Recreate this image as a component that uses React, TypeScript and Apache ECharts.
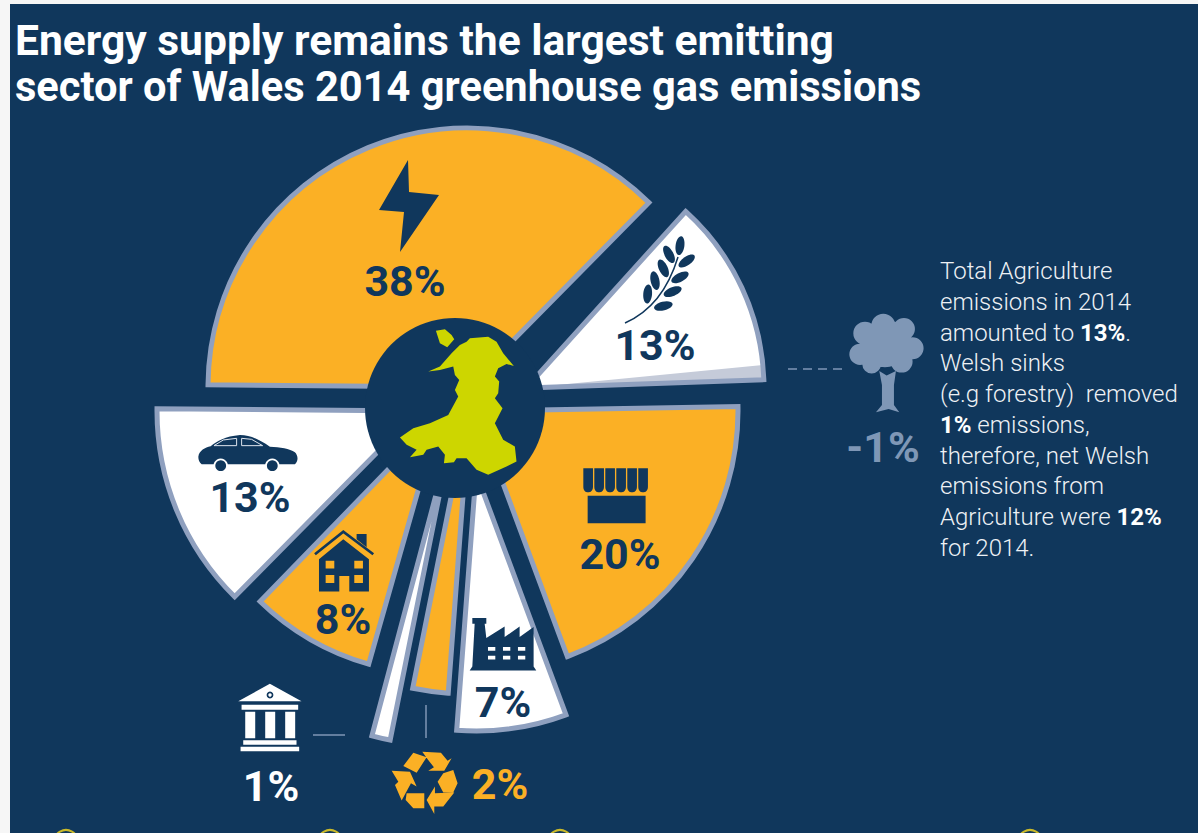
import React, { useEffect, useRef } from "react";
import * as echarts from "echarts";

const sectorNames = ["Energy supply", "Agriculture", "Business", "Industry", "Waste", "Public", "Residential", "Transport"];
const sectorShares = [38, 13, 20, 7, 2, 1, 8, 13];
const sinkShare = 1;
const shareLabels = ["38%", "13%", "20%", "7%", "2%", "1%", "8%", "13%"];
const sinkLabel = "-1%";
const titleLines = ["Energy supply remains the largest emitting", "sector of Wales 2014 greenhouse gas emissions"];
const noteLines = [
  "Total Agriculture",
  "emissions in 2014",
  "amounted to {b|13%}.",
  "Welsh sinks",
  "(e.g forestry)  removed",
  "{b|1%} emissions,",
  "therefore, net Welsh",
  "emissions from",
  "Agriculture were {b|12%}",
  "for 2014.",
];

const NAVY = "#10375c";
const ORANGE = "#fbb025";
const EDGE = "#8fa0bf";
const SINK = "#c5cbd9";
const TREE = "#7f97b6";
const LIME = "#cdd600";
const WHITE = "#ffffff";
const FONT = "Roboto, sans-serif";
const START = 181;

const poly = (pts: number[][]) => "M" + pts.map((p) => p.join(" ")).join("L") + "Z";
const circ = (x: number, y: number, r: number) => `M${x - r} ${y}A${r} ${r} 0 1 1 ${x + r} ${y}A${r} ${r} 0 1 1 ${x - r} ${y}Z`;
const box = (x: number, y: number, w: number, h: number) => `M${x} ${y}L${x + w} ${y}L${x + w} ${y + h}L${x} ${y + h}Z`;
const reg = (name: string, d: string) => echarts.graphic.registerShape(name, echarts.graphic.extendPath(d, {}));

reg("walesMap",
  poly([[228,62],[255,58],[275,75],[283,88],[262,112],[240,100]]) +
  poly([[205,185],[240,170],[275,130],[300,105],[320,95],[330,85],[385,80],[410,95],[430,130],[462,168],[440,162],[415,175],[405,200],[418,215],[415,250],[405,265],[428,295],[405,340],[430,390],[465,410],[470,455],[440,470],[385,495],[350,480],[320,445],[290,445],[282,457],[252,460],[255,435],[235,410],[200,420],[190,435],[150,442],[170,420],[140,405],[120,383],[160,355],[210,340],[265,315],[295,260],[285,240],[298,210],[285,195],[280,170],[240,180]]));
reg("bolt", poly([[408,160],[409,192],[439,195],[400,252],[404,212],[379,210]]));
reg("car", "M25 95C28 76 45 68 62 64C82 48 105 34 150 30C180 30 205 42 240 65C270 67 300 70 315 82C325 92 326 108 315 118L270 118L215 118L120 118L62 118L35 118C28 112 25 105 25 95Z");
reg("carGlass", "M72 62L100 45L140 40L140 62ZM155 40L185 43L218 62L155 62Z");
reg("house",
  poly([[42,118],[115,58],[192,118],[192,215],[133,215],[133,168],[103,168],[103,215],[42,215]]) +
  poly([[155,42],[185,42],[185,82],[155,58]]));
reg("roof", "M30 103L115 35L205 103");
reg("houseWindows", box(62,122,26,24) + box(148,122,26,24) + box(62,165,26,24) + box(148,165,26,24));
reg("shop",
  [25,58,91,124,157,190].map((x) => `M${x} 25L${x + 29} 25L${x + 29} 80C${x + 29} 92 ${x + 22} 97 ${x + 14} 97C${x + 7} 97 ${x} 92 ${x} 80Z`).join("") +
  box(38, 107, 174, 83));
reg("factory",
  box(998,655,42,17) +
  poly([[1005,672],[1035,672],[1040,715],[1095,680],[1095,712],[1140,680],[1140,712],[1182,682],[1182,800],[1190,812],[990,812],[998,800]]));
reg("factoryWindows", [1045,1090,1135].map((x) => box(x,742,22,11) + box(x,768,22,11)).join(""));
reg("bank",
  poly([[390,852],[485,905],[295,905]]) + box(305,915,170,15) +
  box(316,936,30,80) + box(376,936,30,80) + box(436,936,30,80) +
  box(310,1022,160,13) + box(302,1041,176,14));
reg("recycle",
  poly([[55,78],[85,38],[125,52],[95,98]]) +
  poly([[112,35],[168,38],[188,62],[200,55],[178,92],[130,92],[147,82],[128,58]]) +
  poly([[175,100],[205,90],[218,130],[205,158],[175,158],[158,125]]) +
  poly([[150,140],[150,160],[208,158],[175,200],[148,200],[148,222],[125,180]]) +
  poly([[65,160],[118,160],[118,205],[85,205],[62,180]]) +
  poly([[20,92],[75,95],[95,140],[78,130],[50,182],[30,135],[40,125]]));
reg("tree",
  circ(130,62,36) + circ(192,72,33) + circ(75,85,35) + circ(218,130,33) + circ(60,148,32) + circ(95,178,28) + circ(185,170,33) + circ(135,115,72) +
  poly([[118,198],[140,212],[168,198],[162,240],[162,300],[178,322],[146,312],[108,322],[126,300],[126,240]]));

const wedge = (shares: number[], idx: number, fill: string, stroke: string | null, cx: number, cy: number, r: number, startAngle = START) => ({
  type: "pie",
  z: 1,
  silent: true,
  startAngle,
  clockwise: true,
  center: [cx, cy],
  radius: [0, r],
  label: { show: false },
  labelLine: { show: false },
  emphasis: { disabled: true },
  data: shares.map((v, i) => ({
    value: v,
    itemStyle: i === idx
      ? { color: fill, borderColor: stroke ?? "transparent", borderWidth: stroke ? 5 : 0, borderJoin: "miter" }
      : { color: "transparent", borderWidth: 0 },
  })),
});

const splitShares = sectorShares.flatMap((v, i) => (i === 1 ? [v - sinkShare, sinkShare] : [v]));

const pct = (text: string, x: number, y: number, fill: string, size = 43) => ({
  type: "text",
  x,
  y,
  style: { text, x: 0, y: 0, fill, align: "center", verticalAlign: "middle", fontWeight: 700, fontSize: size, fontFamily: FONT },
});

const leaf = (cx: number, cy: number, deg: number) => ({
  type: "ellipse",
  x: 620 + cx / 3,
  y: 225 + cy / 3,
  rotation: (deg * Math.PI) / 180,
  shape: { cx: 0, cy: 0, rx: 9.5, ry: 4.4 },
  style: { fill: NAVY },
});

const thin = (x1: number, y1: number, x2: number, y2: number, extra = {}) => ({
  type: "line",
  shape: { x1, y1, x2, y2 },
  style: { stroke: TREE, lineWidth: 1.5, ...extra },
});

const cropped = (type: string, x: number, y: number, style: any) => ({ type, x, y, scaleX: 1 / 3, scaleY: 1 / 3, style });

export default function App() {
  const ref = useRef<HTMLDivElement>(null);
  useEffect(() => {
    const chart = echarts.init(ref.current!, undefined, { renderer: "svg" });
    const elements: any[] = [
      { type: "circle", shape: { cx: 455, cy: 408, r: 90 }, style: { fill: NAVY } },
      cropped("walesMap", 360, 310, { fill: LIME }),
      { type: "bolt", style: { fill: NAVY } },
      { type: "bezierCurve", shape: { x1: 625, y1: 323, x2: 678, y2: 257, cpx1: 650, cpy1: 312, cpx2: 668, cpy2: 290 }, style: { stroke: NAVY, fill: "none", lineWidth: 1.5 } },
      leaf(180, 62, 82), leaf(147, 88, -62), leaf(130, 130, -65), leaf(105, 167, -78), leaf(83, 207, -95),
      leaf(200, 108, 35), leaf(180, 157, 28), leaf(158, 200, 22), leaf(130, 243, 14),
      cropped("car", 190, 425, { fill: NAVY }),
      cropped("carGlass", 190, 425, { fill: NAVY, stroke: "#dfe5ee", lineWidth: 3 }),
      { type: "circle", shape: { cx: 220.7, cy: 465.7, r: 7.2 }, style: { fill: WHITE } },
      { type: "circle", shape: { cx: 272.3, cy: 465.7, r: 7.2 }, style: { fill: WHITE } },
      { type: "circle", shape: { cx: 220.7, cy: 465.7, r: 5.4 }, style: { fill: NAVY } },
      { type: "circle", shape: { cx: 272.3, cy: 465.7, r: 5.4 }, style: { fill: NAVY } },
      cropped("house", 305, 520, { fill: NAVY }),
      cropped("roof", 305, 520, { fill: "none", stroke: NAVY, lineWidth: 8 }),
      cropped("houseWindows", 305, 520, { fill: ORANGE }),
      cropped("shop", 575, 460, { fill: NAVY }),
      cropped("factory", 140, 400, { fill: NAVY }),
      cropped("factoryWindows", 140, 400, { fill: WHITE }),
      cropped("bank", 140, 400, { fill: WHITE }),
      { type: "circle", shape: { cx: 270, cy: 695, r: 3.4 }, style: { fill: NAVY } },
      { type: "circle", shape: { cx: 270, cy: 695, r: 1.7 }, style: { fill: WHITE } },
      cropped("recycle", 385, 740, { fill: ORANGE }),
      cropped("tree", 840, 305, { fill: TREE }),
      thin(788, 369, 845, 369, { lineDash: [9, 6] }),
      thin(313, 735, 345, 735),
      thin(426, 705, 426, 738),
      pct(shareLabels[0], 405, 281, NAVY),
      pct(shareLabels[1], 655, 345, NAVY),
      pct(shareLabels[2], 620, 554, NAVY),
      pct(shareLabels[3], 503, 702, NAVY),
      pct(shareLabels[4], 500, 784, ORANGE),
      pct(shareLabels[5], 271, 786, WHITE),
      pct(shareLabels[6], 343, 619, NAVY),
      pct(shareLabels[7], 250, 497, NAVY),
      pct(sinkLabel, 883, 447, TREE),
      ...titleLines.map((text, i) => ({
        type: "text",
        x: 15,
        y: 40 + i * 46,
        scaleX: i === 0 ? 0.99 : 0.968,
        style: { text, x: 0, y: 0, fill: WHITE, fontFamily: FONT, fontWeight: 700, fontSize: 43, align: "left", verticalAlign: "middle" },
      })),
      ...noteLines.map((text, i) => ({
        type: "text",
        style: {
          text, x: 940, y: 271 + i * 30.75, fill: "#eef1f5", fontFamily: FONT, fontWeight: 300, fontSize: 24, align: "left", verticalAlign: "middle",
          rich: { b: { fontFamily: FONT, fontWeight: 700, fontSize: 24, fill: WHITE } },
        },
      })),
      ...[[66, 842], [330, 842], [560, 842], [1030, 842]].map(([cx, cy]) => ({
        type: "circle", shape: { cx, cy, r: 12 }, style: { fill: "none", stroke: "#c9b92a", lineWidth: 2 },
      })),
    ].map((el) => ({ ...el, z: 100 }));
    chart.setOption({
      animation: false,
      backgroundColor: "transparent",
      tooltip: { show: false },
      series: [
        wedge(sectorShares, 0, ORANGE, EDGE, 467, 387, 259, 179.5),
        wedge(sectorShares, 1, WHITE, null, 526, 388, 238, 182),
        wedge(splitShares, 2, SINK, null, 526, 388, 238, 182),
        wedge(sectorShares, 1, "transparent", EDGE, 526, 388, 238, 182),
        wedge(sectorShares, 2, ORANGE, EDGE, 476, 411, 262),
        wedge(sectorShares, 3, WHITE, EDGE, 476, 473, 258),
        wedge(sectorShares, 4, ORANGE, EDGE, 470, 403, 291),
        wedge(sectorShares, 5, WHITE, EDGE, 450, 442, 304),
        wedge(sectorShares, 6, ORANGE, EDGE, 439, 417, 257, 180),
        wedge(sectorShares, 7, WHITE, EDGE, 418, 411, 261, 179.5),
      ],
      graphic: { elements },
    });
    return () => chart.dispose();
  }, []);
  return (
    <div style={{ position: "fixed", left: 0, top: 0, width: 1198, height: 833, background: "#f6f6f6", overflow: "hidden" }}>
      <div style={{ position: "absolute", left: 10, top: 4, right: 0, bottom: 0, background: NAVY }} />
      <div ref={ref} style={{ position: "absolute", left: 0, top: 0, width: 1198, height: 833 }} />
    </div>
  );
}
